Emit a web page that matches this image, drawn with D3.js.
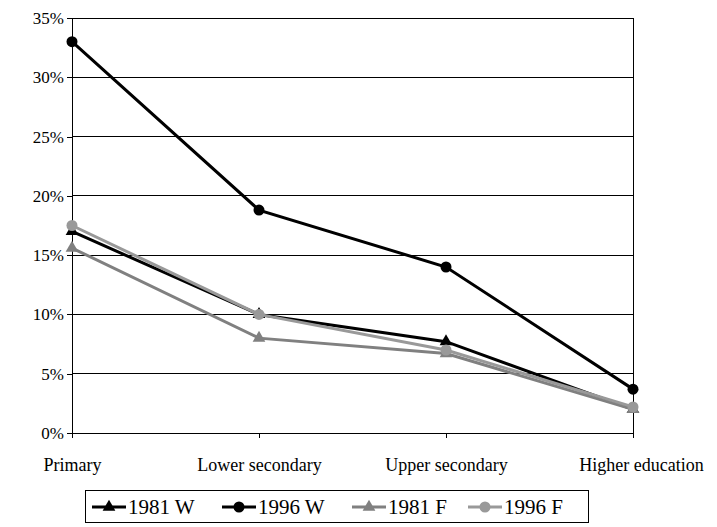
<!DOCTYPE html>
<html><head><meta charset="utf-8">
<script src="https://cdn.jsdelivr.net/npm/d3@7"></script>
<style>body{margin:0;background:#fff}</style>
</head><body>
<svg id="c" width="717" height="527"></svg>
<script>
const categories = ["Primary", "Lower secondary", "Upper secondary", "Higher education"];
const w1981 = [17.0, 10.0, 7.7, 2.0];
const w1996 = [33.0, 18.8, 14.0, 3.7];
const f1981 = [15.6, 8.0, 6.7, 2.0];
const f1996 = [17.5, 10.0, 7.0, 2.2];
const yTicks = [0, 5, 10, 15, 20, 25, 30, 35];

const series = [
  { name: "1981 W", values: w1981, color: "#000", shape: "tri" },
  { name: "1996 W", values: w1996, color: "#000", shape: "circ" },
  { name: "1981 F", values: f1981, color: "#808080", shape: "tri" },
  { name: "1996 F", values: f1996, color: "#999", shape: "circ" }
];

const svg = d3.select("#c");
const font = "'Liberation Serif', 'Times New Roman', serif";
const x = d3.scalePoint().domain(categories).range([72, 633]);
const y = d3.scaleLinear().domain([0, 35]).range([433, 18]);

// grid
svg.append("g").selectAll("line").data(yTicks.slice(1)).enter().append("line")
  .attr("x1", 72).attr("x2", 633).attr("y1", d => y(d)).attr("y2", d => y(d))
  .attr("stroke", "#000").attr("stroke-width", 1).attr("shape-rendering", "crispEdges");
svg.append("line").attr("x1", 633).attr("x2", 633).attr("y1", 18).attr("y2", 433)
  .attr("stroke", "#000").attr("shape-rendering", "crispEdges");

const ya = svg.append("g").attr("transform", "translate(72,0)")
  .call(d3.axisLeft(y).tickValues(yTicks).tickFormat(d => d + "%").tickSize(5).tickSizeOuter(0));
const xa = svg.append("g").attr("transform", "translate(0,433)")
  .call(d3.axisBottom(x).tickSize(5).tickSizeOuter(0).tickPadding(20));
[ya, xa].forEach(a => {
  a.attr("font-family", font).attr("font-size", 18);
  a.selectAll("path,line").attr("stroke", "#000").attr("shape-rendering", "crispEdges");
  a.selectAll("text").attr("fill", "#000");
});
ya.attr("font-size", 17);
xa.select(".domain").attr("d", "M72,0H633");
xa.selectAll("text").filter(d => d === "Higher education").attr("dx", 8);

const tri = d3.symbol().type(d3.symbolTriangle).size(70);
const line = d3.line().x((d, i) => x(categories[i])).y(d => y(d));

function marker(g, s, cx, cy) {
  if (s.shape === "tri") g.append("path").attr("d", tri).attr("transform", `translate(${cx},${cy})`).attr("fill", s.color);
  else g.append("circle").attr("cx", cx).attr("cy", cy).attr("r", 5.5).attr("fill", s.color);
}

series.forEach(s => {
  const g = svg.append("g");
  g.append("path").attr("d", line(s.values)).attr("fill", "none").attr("stroke", s.color).attr("stroke-width", 3);
  s.values.forEach((v, i) => marker(g, s, x(categories[i]), y(v)));
});

// legend
const lg = svg.append("g");
lg.append("rect").attr("x", 85.5).attr("y", 490.5).attr("width", 503).attr("height", 32)
  .attr("fill", "none").attr("stroke", "#000");
const lx = [92, 222, 352, 468];
series.forEach((s, i) => {
  const g = lg.append("g");
  g.append("line").attr("x1", lx[i]).attr("x2", lx[i] + 34).attr("y1", 507).attr("y2", 507)
    .attr("stroke", s.color).attr("stroke-width", 3);
  marker(g, s, lx[i] + 17, 507);
  g.append("text").attr("x", lx[i] + 36).attr("y", 514).text(s.name)
    .attr("font-family", font).attr("font-size", 21);
});
</script>
</body></html>
